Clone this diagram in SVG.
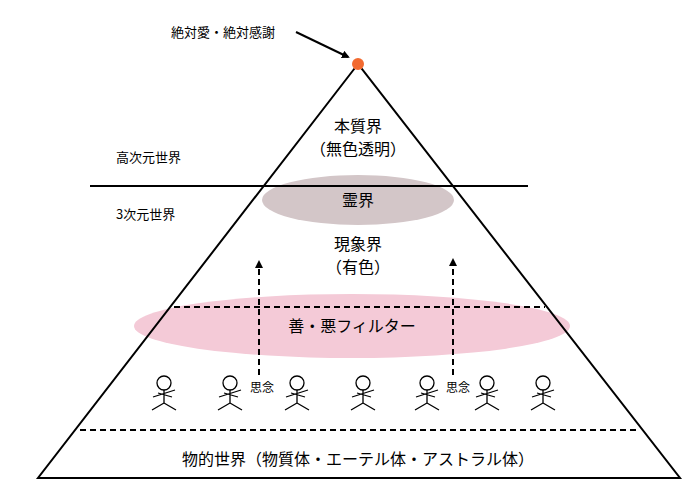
<svg xmlns="http://www.w3.org/2000/svg" width="700" height="500" viewBox="0 0 700 500">
<style>
text{font-family:"Noto Sans CJK JP","Liberation Sans",sans-serif;fill:#000}
.l{stroke:#000;stroke-width:2;fill:none}
.d{stroke:#000;stroke-width:2;fill:none;stroke-dasharray:6,4}
.p{stroke:#000;stroke-width:1.3;fill:none}
</style>
<defs>
<marker id="ah" markerWidth="8" markerHeight="8" refX="6" refY="4" orient="auto" markerUnits="userSpaceOnUse"><path d="M0,0L8,4L0,8z" fill="#000"/></marker>
<g id="fig"><circle cx="0" cy="0" r="7" class="p"/><path class="p" d="M0,7V20M-11,14L11,7M-6,10L8,14M0,20L-12,27M0,20L12,27"/></g>
</defs>
<g id="filter"><ellipse cx="352" cy="326" rx="218" ry="32" fill="#f4cad7"/></g>
<g id="spirit"><ellipse cx="358" cy="200" rx="96" ry="25" fill="#d3c6c8"/></g>
<g id="connectors">
<path class="l" d="M358,64L38,478H680Z"/>
<line class="l" x1="90" y1="186" x2="528" y2="186"/>
<line class="d" x1="174" y1="307" x2="545" y2="307"/>
<line class="d" x1="80" y1="430" x2="636" y2="430"/>
<line class="d" x1="259" y1="375" x2="259" y2="262" marker-end="url(#ah)"/>
<line class="d" x1="453" y1="375" x2="453" y2="260" marker-end="url(#ah)"/>
<line x1="296" y1="32" x2="348" y2="57" stroke="#000" stroke-width="2" marker-end="url(#ah)"/>
</g>
<g id="apex"><circle cx="358" cy="64" r="6" fill="#f26a30"/>
<text x="171" y="37" font-size="13">絶対愛・絶対感謝</text></g>
<g id="essence"><text x="358" y="132" font-size="16" text-anchor="middle">本質界</text><text x="358" y="155" font-size="16" text-anchor="middle">（無色透明）</text></g>
<g id="labels"><text x="116" y="162" font-size="13">高次元世界</text><text x="116" y="219" font-size="13">3次元世界</text></g>
<g id="reikai"><text x="358" y="206" font-size="16" text-anchor="middle">霊界</text></g>
<g id="phenom"><text x="358" y="250" font-size="16" text-anchor="middle">現象界</text><text x="358" y="273" font-size="16" text-anchor="middle">（有色）</text></g>
<g id="filtertext"><text x="352" y="332" font-size="16" text-anchor="middle">善・悪フィルター</text></g>
<g id="people">
<use href="#fig" x="164" y="383"/><use href="#fig" x="230" y="383"/><use href="#fig" x="297" y="383"/><use href="#fig" x="363" y="383"/><use href="#fig" x="427" y="383"/><use href="#fig" x="487" y="383"/><use href="#fig" x="543" y="383"/>
<text x="250" y="392" font-size="12">思念</text><text x="446" y="392" font-size="12">思念</text>
</g>
<g id="physical"><text x="358" y="465" font-size="16" text-anchor="middle">物的世界（物質体・エーテル体・アストラル体）</text></g>
</svg>
